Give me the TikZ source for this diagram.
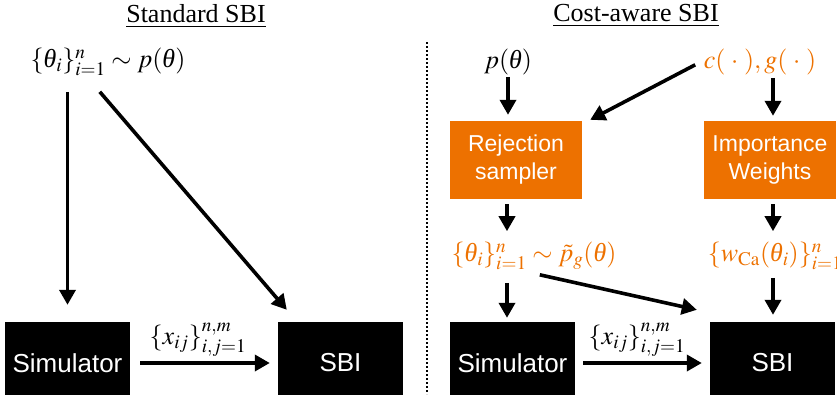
\documentclass[tikz,border=0pt]{standalone}
\usepackage{mathptmx}
\usepackage{fontspec}
\setmainfont{Liberation Serif}
\setsansfont{Liberation Sans}
\usetikzlibrary{arrows.meta,calc}
\definecolor{caorange}{RGB}{237,113,0}
\newcommand{\thit}{\mbox{\itshape θ}}
\begin{document}
\begin{tikzpicture}[x=1pt,y=-1pt,
  arr/.style={line width=3.6pt,-{Triangle[length=15pt,width=16pt]}},
  blackbox/.style={fill=black,text=white,font=\sffamily\fontsize{26}{30}\selectfont,minimum width=125pt,minimum height=82pt,inner sep=0pt},
  orangebox/.style={fill=caorange,text=white,font=\sffamily\fontsize{23}{28}\selectfont,minimum width=132pt,minimum height=78pt,align=center,inner sep=0pt},
  mathlbl/.style={font=\fontsize{26}{30}\selectfont,inner sep=0pt},
  titlelbl/.style={font=\fontsize{26}{30}\selectfont,inner sep=0pt},
  divider/.style={line width=1.3pt,dash pattern=on 2pt off 2pt}]
\clip (0,0) rectangle (837,394);
% titles
\node[titlelbl] (tL) at (196,16) {\underline{Standard SBI}};
\node[titlelbl] (tR) at (636,16) {\underline{Cost-aware SBI}};
\coordinate (dtop) at (427,42);
\coordinate (dbot) at (427,394);
\draw[divider] (dtop) -- (dbot);
% left
\node[mathlbl] (thL) at (108,62) {$\{\thit_i\}_{i=1}^n \sim p(\thit)$};
\node[blackbox] (simL) at (67.5,363) {Simulator};
\node[blackbox] (sbiL) at (340.5,363) {SBI};
\node[mathlbl] (xL) at (198,340) {$\{x_{ij}\}_{i,j=1}^{n,m}$};
\draw[arr] ($(simL.north)+(0,-230)$) -- ($(simL.north)+(0,-17)$);
\draw[arr] ($(sbiL.north west)+(-178,-230)$) -- ($(sbiL.north west)+(9,-12)$);
\draw[arr] ($(simL.east)+(10,0)$) -- ($(sbiL.west)+(-8,0)$);
% right
\node[mathlbl] (pR) at (508,62) {$p(\thit)$};
\node[mathlbl,text=caorange] (cg) at (760,62) {$c(\;\cdot\;),g(\;\cdot\;)$};
\node[orangebox] (rej) at (516,160) {Rejection\\sampler};
\node[orangebox] (imp) at (770,160) {Importance\\Weights};
\node[mathlbl,text=caorange] (thR) at (534,256) {$\{\thit_i\}_{i=1}^n \sim \tilde p_g(\thit)$};
\node[mathlbl,text=caorange] (wR) at (775,256) {$\{w_{\mathrm{Ca}}(\thit_i)\}_{i=1}^n$};
\node[blackbox] (simR) at (512.5,363) {Simulator};
\node[blackbox] (sbiR) at (772.5,363) {SBI};
\node[mathlbl] (xR) at (637,340) {$\{x_{ij}\}_{i,j=1}^{n,m}$};
\draw[arr] ($(rej.north)+(-8,-44)$) -- ($(rej.north)+(-8,-6)$);
\draw[arr] ($(rej.north east)+(113,-56)$) -- ($(rej.north east)+(8,-1)$);
\draw[arr] ($(imp.north)+(3,-43)$) -- ($(imp.north)+(3,-5)$);
\draw[arr] ($(rej.south)+(-9,5)$) -- ($(rej.south)+(-9,32)$);
\draw[arr] ($(imp.south)+(3,5)$) -- ($(imp.south)+(3,32)$);
\draw[arr] ($(simR.north)+(-5.5,-39)$) -- ($(simR.north)+(-5.5,-4)$);
\draw[arr] ($(sbiR.north west)+(-170,-47)$) -- ($(sbiR.north west)+(-13,-12)$);
\draw[arr] ($(sbiR.north)+(0.5,-44)$) -- ($(sbiR.north)+(0.5,-7)$);
\draw[arr] ($(simR.east)+(8,0)$) -- ($(sbiR.west)+(-8,0)$);
\end{tikzpicture}
\end{document}
